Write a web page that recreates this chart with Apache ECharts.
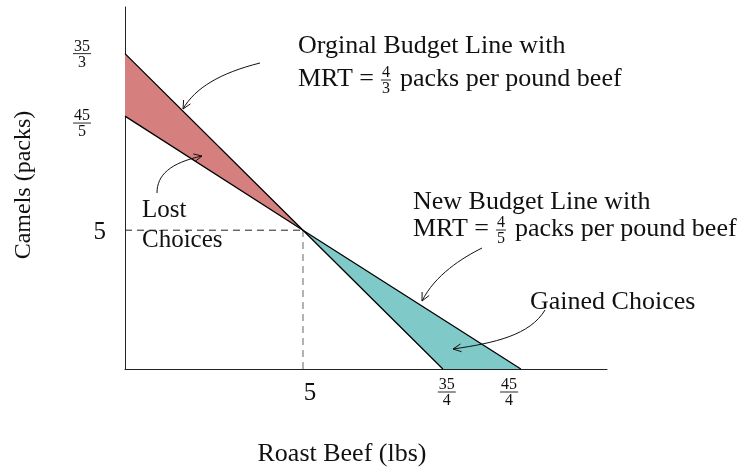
<!DOCTYPE html>
<html>
<head>
<meta charset="UTF-8">
<title></title>
<style>html,body{margin:0;padding:0;background:#fff;}#charts{width:754px;height:472px;}</style>
</head>
<body>
<div id="charts"></div>
<script src="https://cdn.jsdelivr.net/npm/echarts@6/dist/echarts.min.js"></script>
<script>
// budget lines, end points on the two axes
var originalLine = [[0, 11.36], [5, 5], [8.93, 0]];
var newLine = [[0, 9.11], [5, 5], [11.12, 0]];
var kink = [5, 5];

// shaded regions between the two lines
var lostChoices = [[0, 11.36], [5, 5], [0, 9.11]];
var gainedChoices = [[5, 5], [11.12, 0], [8.93, 0]];

// tick labels (where they sit on the axis), numerator / denominator
var xTickValues = [5.2, 9.04, 10.79];
var xTickNum = ['5', '35', '45'];
var xTickDen = ['', '4', '4'];
var yTickValues = [5, 8.86, 11.36];
var yTickNum = ['5', '45', '35'];
var yTickDen = ['', '5', '3'];

var FONT = '"Liberation Serif", "Times New Roman", serif';
var ink = '#111';
var mycharts = echarts.init(document.getElementById('charts'));

function polygon(points, color) {
    return {
        type: 'custom',
        silent: true,
        clip: false,
        z: 1,
        data: [[0, 0]],
        renderItem: function (params, api) {
            return {
                type: 'polygon',
                shape: {points: points.map(function (p) { return api.coord(p); })},
                style: {fill: color}
            };
        }
    };
}

function line(data, color, width, dash) {
    return {
        type: 'line',
        data: data,
        symbol: 'none',
        silent: true,
        z: 3,
        lineStyle: {color: color, width: width, type: dash || 'solid'}
    };
}

var option = {
    animation: false,
    backgroundColor: '#fff',
    grid: {left: 125, top: 7, right: 147, bottom: 100},
    xAxis: {
        type: 'value', min: 0, max: 13.54,
        axisLine: {show: true, onZero: false, lineStyle: {color: '#222', width: 1}},
        axisTick: {show: false}, axisLabel: {show: false}, splitLine: {show: false},
        name: 'Roast Beef (lbs)', nameLocation: 'middle', nameGap: 85,
        nameTextStyle: {fontFamily: FONT, fontSize: 26, color: ink, verticalAlign: 'middle', padding: [0, 48, 0, 0]}
    },
    yAxis: {
        type: 'value', min: 0, max: 13.04,
        axisLine: {show: true, onZero: false, lineStyle: {color: '#222', width: 1}},
        axisTick: {show: false}, axisLabel: {show: false}, splitLine: {show: false},
        name: 'Camels (packs)', nameLocation: 'middle', nameGap: 101, nameRotate: 90,
        nameTextStyle: {fontFamily: FONT, fontSize: 24, color: ink, verticalAlign: 'middle', padding: [0, 0, 0, 6]}
    },
    series: [
        polygon(lostChoices, '#d67f7f'),
        polygon(gainedChoices, '#7fc9c9'),
        line([[0, kink[1]], kink], '#222', 1, [7, 5]),
        line([[kink[0], 0], kink], '#666', 1, [7, 5]),
        line(originalLine, '#000', 1.3),
        line(newLine, '#000', 1.3)
    ]
};
mycharts.setOption(option);

// ---- labels and notes ----
var ctx = document.createElement('canvas').getContext('2d');
function textWidth(s, size) {
    ctx.font = size + 'px ' + FONT;
    return ctx.measureText(s).width;
}
function txt(s, x, y, size, align) {
    return {type: 'text', silent: true, z: 10, style: {text: s, x: x, y: y, fill: ink,
        font: size + 'px ' + FONT, align: align || 'left', verticalAlign: 'middle'}};
}
function fraction(num, den, cx, barY, size, barW) {
    return [
        txt(num, cx, barY - size * 0.45, size, 'center'),
        {type: 'line', silent: true, z: 10, shape: {x1: cx - barW / 2, y1: barY, x2: cx + barW / 2, y2: barY},
            style: {stroke: ink, lineWidth: 0.9}},
        txt(den, cx, barY + size * 0.55, size, 'center')
    ];
}
// text "MRT = a/b rest", laid out from its left edge
function mrtLine(x, y, num, den, gap) {
    var els = [];
    var head = 'MRT =';
    els.push(txt(head, x, y, 26));
    var fx = x + textWidth(head, 26) + gap;
    els = els.concat(fraction(num, den, fx + 4, y + 1, 16, 10));
    els.push(txt('packs per pound beef', fx + 10 + gap, y, 26));
    return els;
}
function arrow(p0, c1, c2, p3) {
    var dx = p3[0] - c2[0], dy = p3[1] - c2[1];
    var len = Math.sqrt(dx * dx + dy * dy);
    dx /= len; dy /= len;
    var L = 9, a = 0.45;
    function barb(s) {
        var cos = Math.cos(s * a), sin = Math.sin(s * a);
        var bx = -(dx * cos - dy * sin), by = -(dx * sin + dy * cos);
        return [p3[0] + bx * L, p3[1] + by * L];
    }
    return [
        {type: 'bezierCurve', silent: true, z: 10,
            shape: {x1: p0[0], y1: p0[1], cpx1: c1[0], cpy1: c1[1], cpx2: c2[0], cpy2: c2[1], x2: p3[0], y2: p3[1]},
            style: {stroke: ink, lineWidth: 1, fill: null}},
        {type: 'polyline', silent: true, z: 10, shape: {points: [barb(1), p3, barb(-1)]},
            style: {stroke: ink, lineWidth: 1, fill: null}}
    ];
}

var g = [];
var origin = mycharts.convertToPixel({gridIndex: 0}, [0, 0]);
xTickValues.forEach(function (v, i) {
    var px = mycharts.convertToPixel({gridIndex: 0}, [v, 0])[0];
    if (xTickDen[i]) g = g.concat(fraction(xTickNum[i], xTickDen[i], px, origin[1] + 23, 16, 18));
    else g.push(txt(xTickNum[i], px, origin[1] + 24, 25, 'center'));
});
yTickValues.forEach(function (v, i) {
    var py = mycharts.convertToPixel({gridIndex: 0}, [0, v])[1];
    if (yTickDen[i]) g = g.concat(fraction(yTickNum[i], yTickDen[i], origin[0] - 43, py, 16, 18));
    else g.push(txt(yTickNum[i], origin[0] - 19, py + 2, 25, 'right'));
});

g.push(txt('Orginal Budget Line with', 298, 46, 26));
g = g.concat(mrtLine(298, 79, '4', '3', 8));
g.push(txt('New Budget Line with', 413, 202, 26));
g = g.concat(mrtLine(413, 229, '4', '5', 8));
g.push(txt('Lost', 142, 210, 25));
g.push(txt('Choices', 142, 240, 25));
g.push(txt('Gained Choices', 530, 302, 26));

g = g.concat(arrow([260, 63], [220, 73], [195, 88], [183, 109]));
g = g.concat(arrow([157, 193], [157, 175], [170, 163], [202, 156]));
g = g.concat(arrow([482, 248], [462, 258], [435, 275], [422, 301]));
g = g.concat(arrow([545, 310], [530, 335], [495, 343], [453, 349]));

mycharts.setOption({graphic: g});
</script>
</body>
</html>
